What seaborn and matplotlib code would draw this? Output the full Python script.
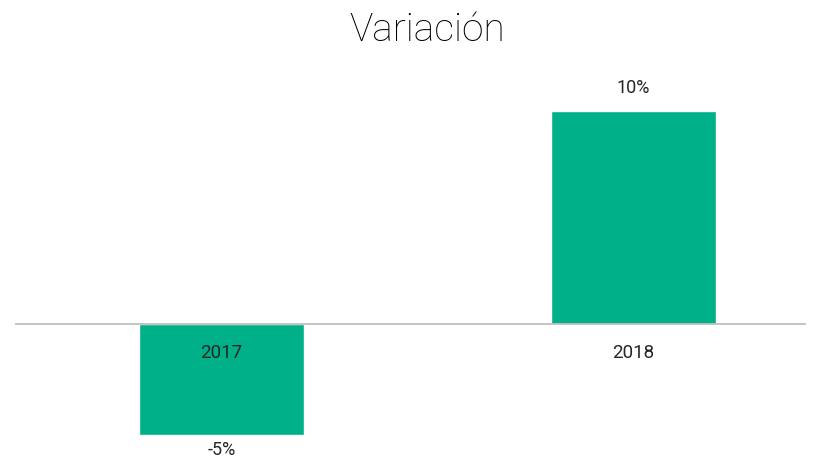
import numpy as np
import pandas as pd
import seaborn as sns
import matplotlib.pyplot as plt

years = ["2017", "2018"]
variacion = [-0.052, 0.10]
etiquetas = ["-5%", "10%"]

df = pd.DataFrame({"year": years, "value": variacion})

sns.set_style("white")
plt.rcParams['font.family'] = ['Roboto', 'DejaVu Sans']
plt.rcParams['font.weight'] = 'normal'

fig = plt.figure(figsize=(8.2, 4.58), dpi=100)
ax = fig.add_axes([16/820, 16/458, 789/820, 342/458])
sns.barplot(data=df, x="year", y="value", color="#00B088", saturation=1,
            width=0.4, ax=ax)

ax.set_ylim(-0.0552, 0.1052)
ax.set_xlim(-0.499, 1.416)
ax.set_axisbelow(False)

for s in ["top", "right", "left"]:
    ax.spines[s].set_visible(False)
ax.spines["bottom"].set_position(("data", 0))
ax.spines["bottom"].set_color("#BFBFBF")
ax.spines["bottom"].set_linewidth(1.3)
ax.set_yticks([])
ax.tick_params(axis="x", length=0, pad=14, labelsize=13.5, labelcolor="#262626")
ax.set_xlabel("")
ax.set_ylabel("")

for i, (v, lab) in enumerate(zip(variacion, etiquetas)):
    off = 10 if v > 0 else -4
    ax.annotate(lab, (i, v), xytext=(0, off), textcoords="offset points",
                ha="center", va="bottom" if v > 0 else "top",
                fontsize=13, color="#262626")

fig.text(427/820, 1 - 30/458, "Variación", ha="center", va="center",
         fontsize=28, color="#000000", fontweight="light")

fig.savefig("out.png", dpi=100)
